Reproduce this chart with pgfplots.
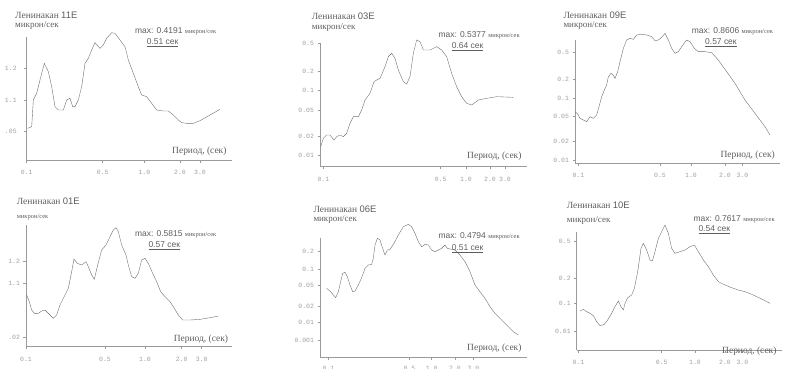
\documentclass[border=0pt]{standalone}
\usepackage{fontspec}
\setmainfont{Liberation Serif}
\setsansfont{Liberation Sans}
\setmonofont{Liberation Mono}
\usepackage{pgfplots}
\pgfplotsset{compat=1.18}
\definecolor{crv}{HTML}{707070}
\definecolor{axc}{HTML}{9A9A9A}
\definecolor{tkc}{HTML}{A0A0A0}
\definecolor{ttc}{HTML}{5E5E5E}
\newcommand{\ttl}[1]{{\color{ttc}\fontsize{9.5}{10}\selectfont #1}}
\newcommand{\unt}[1]{{\color{ttc}\fontsize{9}{10}\selectfont #1}}
\newcommand{\mx}[2]{{\color{ttc}\sffamily\fontsize{8.5}{9}\selectfont max: #1 \rmfamily\fontsize{6.5}{7}\selectfont микрон/сек}}
\newcommand{\sek}[1]{{\color{ttc}\sffamily\fontsize{8.5}{9}\selectfont\underline{#1 сек}}}
\newcommand{\per}{{\color{ttc}\fontsize{9.5}{10}\selectfont Период, (сек)}}
\pgfplotsset{panel/.style={
  x=0.33333bp, y=0.33333bp, anchor=south west, clip=false,
  axis lines=left, axis line style={-, draw=axc, line width=0.8bp},
  ymin=0,
  tick align=outside, major tick length=2.5bp,
  tick style={draw=axc, line width=0.6bp},
  xticklabels={0.1,0.5,1.0,2.0,3.0},
  xticklabel style={font=\ttfamily\fontsize{6.5}{6.5}\selectfont, text=tkc, yshift=-4bp},
  yticklabel style={font=\ttfamily\fontsize{6.5}{6.5}\selectfont, text=tkc},
  cycle list={{crv, line width=0.75bp, smooth, tension=0.45, mark=none}},
}}
\begin{document}
\begin{tikzpicture}
\useasboundingbox (0,0) rectangle (791bp,-369bp);
% Panel 1
\begin{axis}[panel, at={(26.67bp,-160bp)}, xmin=80, xmax=695, ymax=370,
  xtick={80,308,433,540,600}, ytick={85,180,275}, yticklabels={.05,1.1,1.2},
  yticklabel style={xshift=-4bp}]
\addplot coordinates {(83,95)(95,100)(100,180)(110,200)(120,240)(133,290)(145,265)(155,220)(165,160)(175,150)(190,150)(200,180)(210,185)(218,160)(225,160)(235,180)(245,220)(255,290)(265,305)(275,330)(285,352)(300,335)(310,345)(320,365)(335,382)(345,380)(360,360)(375,340)(385,300)(400,260)(415,220)(425,195)(440,190)(455,170)(470,150)(490,147)(505,147)(520,135)(535,120)(545,112)(560,110)(580,110)(600,118)(630,135)(660,152)};
\node[anchor=west] at (axis cs:35,435) {\ttl{Ленинакан \textsf{11E}}};
\node[anchor=west] at (axis cs:35,405) {\unt{микрон/сек}};
\node[anchor=west] at (axis cs:395,385) {\mx{0.4191}{}};
\node[anchor=west] at (axis cs:430,352) {\sek{0.51}};
\node[anchor=east] at (axis cs:690,25) {\per};
\end{axis}
% Panel 2
\begin{axis}[panel, at={(320bp,-166.67bp)}, xmin=150, xmax=770, ymax=370,
  xtick={160,512,588,660,705}, ytick={33,90,170,228,287,370},
  yticklabels={0.01,0.02,0.05,0.1,0.2,0.5}]
\addplot coordinates {(152,60)(160,85)(170,95)(180,95)(192,80)(200,90)(210,95)(220,90)(230,100)(240,130)(250,150)(265,150)(275,170)(285,200)(300,220)(312,255)(320,260)(330,265)(345,300)(355,330)(365,340)(375,325)(385,290)(400,255)(410,248)(420,270)(430,340)(440,380)(450,375)(460,350)(470,350)(480,350)(490,355)(500,360)(515,350)(530,330)(545,280)(560,240)(575,210)(590,190)(605,185)(625,200)(650,205)(680,210)(730,208)};
\node[anchor=west] at (axis cs:115,450) {\ttl{Ленинакан \textsf{03E}}};
\node[anchor=west] at (axis cs:115,417) {\unt{микрон/сек}};
\node[anchor=west] at (axis cs:495,395) {\mx{0.5377}{}};
\node[anchor=west] at (axis cs:535,360) {\sek{0.64}};
\node[anchor=east] at (axis cs:765,30) {\per};
\end{axis}
% Panel 3
\begin{axis}[panel, at={(575bp,-163.33bp)}, xmin=120, xmax=735, ymax=370,
  xtick={130,375,468,570,622}, ytick={10,65,140,195,253,332},
  yticklabels={0.01,0.02,0.05,0.1,0.2,0.5}]
\addplot coordinates {(120,155)(128,148)(135,135)(145,130)(155,125)(165,140)(175,135)(185,145)(192,170)(200,200)(208,220)(215,235)(220,260)(228,270)(235,265)(240,255)(248,275)(255,305)(265,345)(275,370)(285,375)(295,372)(305,385)(320,387)(335,385)(350,380)(360,368)(370,370)(380,378)(390,390)(400,370)(410,345)(420,330)(430,335)(440,350)(455,370)(465,365)(478,345)(490,335)(510,335)(530,332)(550,310)(575,275)(600,240)(630,190)(660,150)(690,110)(705,85)};
\node[anchor=west] at (axis cs:75,445) {\ttl{Ленинакан \textsf{09E}}};
\node[anchor=west] at (axis cs:75,415) {\unt{микрон/сек}};
\node[anchor=west] at (axis cs:460,395) {\mx{0.8606}{}};
\node[anchor=west] at (axis cs:500,362) {\sek{0.57}};
\node[anchor=east] at (axis cs:730,25) {\per};
\end{axis}
% Panel 4
\begin{axis}[panel, at={(26bp,-346.67bp)}, xmin=78, xmax=695, ymax=365,
  xtick={78,315,435,545,605}, ytick={27,189,257}, yticklabels={.02,1.1,1.2}]
\addplot coordinates {(80,155)(88,135)(95,110)(103,100)(115,100)(125,107)(135,110)(145,100)(160,85)(170,95)(180,125)(195,155)(205,175)(215,225)(222,263)(232,250)(245,245)(258,255)(265,240)(275,215)(283,202)(293,245)(305,290)(318,305)(330,330)(340,350)(348,357)(355,345)(365,305)(378,275)(385,245)(395,210)(405,205)(415,220)(425,260)(435,265)(445,250)(458,220)(470,195)(482,165)(495,150)(510,135)(520,120)(535,95)(548,80)(570,80)(600,82)(630,87)(655,92)};
\node[anchor=west] at (axis cs:40,437) {\ttl{Ленинакан \textsf{01E}}};
\node[anchor=west] at (axis cs:40,390) {{\color{ttc}\fontsize{6.5}{7}\selectfont микрон/сек}};
\node[anchor=west] at (axis cs:395,337) {\mx{0.5815}{}};
\node[anchor=west] at (axis cs:435,302) {\sek{0.57}};
\node[anchor=east] at (axis cs:695,22) {\per};
\end{axis}
% Panel 5
\begin{axis}[panel, at={(320bp,-357.67bp)}, xmin=150, xmax=770, ymax=358,
  xtick={175,418,485,555,610}, ytick={53,105,153,218,265,318,360},
  yticklabels={0.001,0.01,0.02,0.05,0.1,0.2,0.5},
  xticklabel style={yshift=2bp}]
\addplot coordinates {(170,208)(180,200)(190,188)(197,180)(205,198)(212,228)(218,253)(225,256)(232,243)(240,218)(248,198)(255,200)(265,218)(275,240)(285,268)(295,278)(305,280)(310,298)(315,338)(322,358)(330,353)(338,328)(345,308)(352,323)(360,325)(372,343)(385,368)(400,393)(415,400)(425,393)(435,373)(445,348)(455,333)(465,340)(475,338)(485,323)(495,318)(505,323)(515,328)(525,338)(532,328)(540,326)(555,323)(570,308)(585,288)(600,258)(615,218)(630,198)(645,178)(660,153)(675,133)(690,118)(710,98)(730,78)(745,68)};
\node[anchor=west] at (axis cs:120,446) {\ttl{Ленинакан \textsf{06E}}};
\node[anchor=west] at (axis cs:120,415) {\unt{микрон/сек}};
\node[anchor=west] at (axis cs:495,363) {\mx{0.4794}{}};
\node[anchor=west] at (axis cs:535,328) {\sek{0.51}};
\node[anchor=east] at (axis cs:765,28) {\per};
\end{axis}
% Panel 6
\begin{axis}[panel, at={(576.67bp,-350bp)}, xmin=125, xmax=740, ymax=355,
  xtick={130,380,480,570,622}, ytick={55,140,215,325},
  yticklabels={0.01,0.1,0.2,0.5}]
\addplot coordinates {(135,117)(145,122)(155,115)(165,110)(175,103)(185,85)(195,73)(208,77)(218,90)(230,110)(240,130)(250,147)(258,130)(265,120)(270,140)(278,157)(290,165)(298,185)(308,235)(318,305)(325,320)(335,300)(345,270)(352,267)(360,295)(370,335)(380,355)(390,375)(400,350)(410,305)(420,290)(435,295)(450,300)(465,310)(478,315)(490,295)(505,270)(520,250)(535,225)(550,205)(570,195)(590,187)(610,180)(630,175)(655,165)(680,153)(705,140)};
\node[anchor=west] at (axis cs:85,435) {\ttl{Ленинакан \textsf{10E}}};
\node[anchor=west] at (axis cs:85,390) {\unt{микрон/сек}};
\node[anchor=west] at (axis cs:465,392) {\mx{0.7617}{}};
\node[anchor=west] at (axis cs:480,360) {\sek{0.54}};
\node[anchor=east] at (axis cs:735,-3) {\per};
\end{axis}
\end{tikzpicture}
\end{document}
